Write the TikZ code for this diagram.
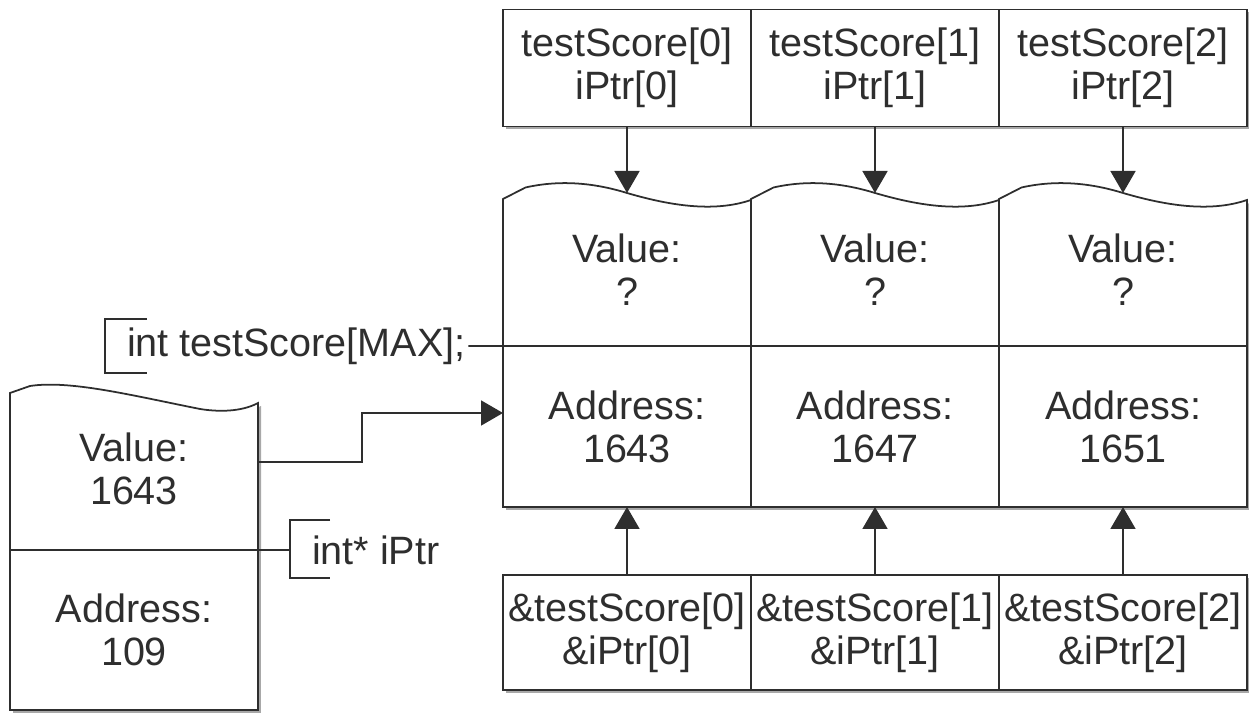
\documentclass[tikz,border=0pt]{standalone}
\usepackage{fontspec}
\setmainfont{Liberation Sans}
\usetikzlibrary{arrows.meta, positioning, shadows}
\definecolor{tinta}{HTML}{2E2E2E}
\definecolor{sombra}{HTML}{A8A8A8}
\newcommand{\letra}{\fontsize{22.5}{24.5}\selectfont}
\tikzset{
  sombreado/.style={drop shadow={shadow xshift=0.06cm, shadow yshift=-0.06cm, fill=sombra, opacity=1}},
  caja/.style={rectangle, draw=tinta, line width=1pt, fill=white, inner sep=0pt, outer sep=0pt,
               minimum width=4.96cm, align=center, font=\letra, text=tinta, sombreado},
  nombre/.style={caja, minimum height=2.34cm},
  direccion/.style={caja, minimum height=3.22cm},
  referencia/.style={caja, minimum height=2.3cm},
  valor/.style={rectangle, inner sep=0pt, outer sep=0pt, minimum width=4.96cm,
                minimum height=3.06cm, align=center, font=\letra, text=tinta},
  onda/.style={draw=tinta, line width=1pt, fill=white, sombreado},
  linea/.style={draw=tinta, line width=1pt},
  flecha/.style={linea, -{Triangle[length=0.44cm, width=0.5cm]}},
  etiqueta/.style={inner xsep=0.06cm, inner ysep=0pt, outer sep=0pt, font=\letra, text=tinta}
}

\begin{document}
\begin{tikzpicture}
  \useasboundingbox (0,0) rectangle (24.98,14.3);

  % celdas del arreglo, tapa ondulada
  \foreach \x in {10.06, 15.02, 19.98} {
    \path[onda] (\x,7.38) -- (\x,10.32) -- ({\x+0.45},10.55)
      .. controls ({\x+1.2},10.72) and ({\x+1.9},10.62) .. ({\x+2.48},10.44)
      .. controls ({\x+3.3},10.2) and ({\x+4.2},10.04) .. ({\x+4.96},10.3)
      -- ({\x+4.96},7.38);
  }
  % celda del puntero
  \path[onda] (0.2,3.3) -- (0.2,6.44) -- (0.6,6.58)
    .. controls (1.4,6.7) and (2.6,6.4) .. (4.0,6.12)
    .. controls (4.5,6.04) and (4.9,6.1) .. (5.16,6.24) -- (5.16,3.3);

  \node (nom0) [nombre] at (12.54,12.94) {testScore[0]\\iPtr[0]};
  \node (nom1) [nombre, right=0pt of nom0] {testScore[1]\\iPtr[1]};
  \node (nom2) [nombre, right=0pt of nom1] {testScore[2]\\iPtr[2]};

  \node (val0) [valor] at (12.54,8.91) {Value:\\?};
  \node (val1) [valor, right=0pt of val0] {Value:\\?};
  \node (val2) [valor, right=0pt of val1] {Value:\\?};

  \node (dir0) [direccion, below=0pt of val0] {Address:\\1643};
  \node (dir1) [direccion, below=0pt of val1] {Address:\\1647};
  \node (dir2) [direccion, below=0pt of val2] {Address:\\1651};

  \node (ref0) [referencia] at (12.54,1.65) {\&testScore[0]\\\&iPtr[0]};
  \node (ref1) [referencia, right=0pt of ref0] {\&testScore[1]\\\&iPtr[1]};
  \node (ref2) [referencia, right=0pt of ref1] {\&testScore[2]\\\&iPtr[2]};

  \foreach \i in {0,1,2} {
    \draw[flecha] (nom\i) -- (val\i.north);
    \draw[flecha] (ref\i) -- (dir\i);
  }

  \node (pval) [valor] at (2.68,4.93) {Value:\\1643};
  \node (pdir) [direccion, minimum height=3.2cm] at (2.68,1.7) {Address:\\109};

  % declaraciones
  \node (decl) [etiqueta, anchor=west] at (2.48,7.38) {int testScore[MAX];};
  \draw[linea] (decl.east) -- (dir0.north west);
  \draw[linea] (2.94,7.92) -- (2.1,7.92) -- (2.1,6.84) -- (2.94,6.84);

  \node (pdecl) [etiqueta, anchor=west] at (6.18,3.3) {int* iPtr};
  \coordinate (pcorch) at (5.8,3.3);
  \draw[linea] (pdir.north east) -- (pcorch);
  \draw[linea] (6.6,3.9) -- (5.8,3.9) -- (5.8,2.74) -- (6.6,2.74);

  \draw[flecha] ([yshift=0.13cm]pval.east) -- ++(2.08,0) |- ([yshift=0.27cm]dir0.west);
\end{tikzpicture}
\end{document}
